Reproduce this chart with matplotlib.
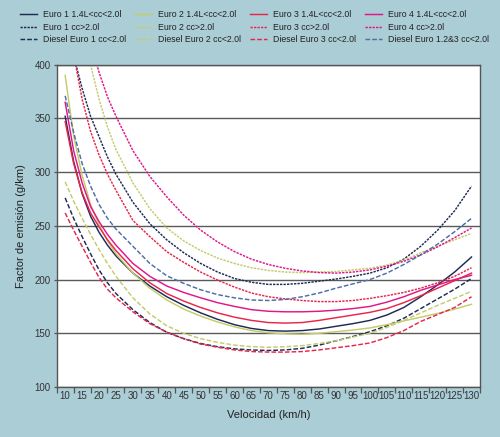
import numpy as np
import matplotlib
matplotlib.use('Agg')
import matplotlib.pyplot as plt
from matplotlib.ticker import FixedLocator, NullFormatter, FixedFormatter

plt.rcParams['font.family'] = ['Liberation Sans', 'DejaVu Sans']

speed = [10, 12.5, 15, 17.5, 20, 22.5, 25, 30, 35, 40, 45, 50, 55, 60, 65,
         70, 75, 80, 85, 90, 95, 100, 105, 110, 115, 120, 125, 130]

euro1 = [352, 310, 280, 259, 244, 232, 222, 206, 194, 184, 176, 169, 163, 158, 154.5,
         152.5, 152, 152.5, 154, 156.5, 159, 162, 167, 174, 184, 195, 207, 221]
euro2 = [390, 334, 297, 270, 251, 236, 224, 206, 192, 181, 172.5, 166, 160.5, 156, 152.5,
         150.5, 149.5, 149, 150, 151.5, 153, 155, 158, 161.5, 165, 168.5, 172.5, 177]
euro3 = [347, 308, 281, 262, 249, 237, 227, 210, 197, 187, 180, 174, 169, 165, 162,
         160, 159.5, 160, 162, 164.5, 167, 169.5, 173, 178.5, 185, 192, 199, 206]
euro4 = [365, 320, 290, 268, 254, 242, 232, 215, 203, 194, 188, 183, 178.5, 175, 172,
         170.5, 170, 170, 170.5, 171.5, 173, 175, 179, 184, 190, 195, 200, 204]

euro1_big = [455, 408, 378, 352, 333, 314, 298, 272, 252, 237, 225, 215, 207, 201, 197.5,
             195.5, 195.5, 196.5, 198.5, 200.5, 203, 206, 211, 219, 231, 246, 264, 287]
euro2_big = [560, 490, 438, 400, 368, 342, 321, 290, 266, 248, 236, 227, 220, 215, 211,
             208.5, 207, 206.5, 207, 207.5, 209, 210.5, 213.5, 218, 225, 231, 237, 243]
euro3_big = [480, 410, 368, 338, 316, 298, 283, 255, 240, 226, 216, 207, 199.5, 193, 187.5,
             184, 182, 180.5, 179.5, 179.5, 180.5, 182.5, 185, 188, 192, 197, 203, 211]
euro4_big = [600, 520, 465, 420, 393, 370, 352, 320, 296, 277, 260, 246, 235, 226, 219,
             214, 210.5, 208, 206.5, 206, 207, 209, 212.5, 217, 223, 230.5, 239, 248]

diesel1 = [276, 257, 240, 224, 209, 197, 187, 172, 160, 151, 145, 140.5, 137.5, 135.5, 134.5,
           134, 134.5, 136, 139, 143, 147, 151.5, 157, 164, 173, 182, 191, 201]
diesel2 = [291, 273, 257, 242, 228, 215, 203, 183, 168, 157, 150, 145, 141.5, 139, 137.5,
           137, 137.5, 138.5, 140.5, 143, 146.5, 150, 155.5, 162, 169, 176, 182.5, 189]
diesel3 = [262, 246, 231, 216, 202, 191, 183, 170, 159, 151, 145, 140, 137, 134.5, 133,
           132.5, 132.5, 133, 134.5, 136.5, 138.5, 141, 146, 152.5, 161, 167.5, 174, 184]
diesel123 = [371, 337, 308, 287, 270, 257, 247, 231, 215, 203.5, 196.5, 190.5, 186, 183, 181,
             180.5, 181.5, 184, 187.5, 192, 196, 200, 206, 214, 223, 233, 244.5, 257]

tick_labels = [str(v) for v in range(10, 135, 5)]

navy = '#1d2b55'
green = '#c4cc6c'
red = '#e8264c'
magenta = '#e0178a'
steel = '#4d6ea6'
bg = '#abcdd6'

dot = (0, (1.6, 0.8))
dash = (0, (3.2, 1.4))

series = [
    (euro1, 'Euro 1 1.4L<cc<2.0l', navy, '-'),
    (euro1_big, 'Euro 1 cc>2.0l', navy, dot),
    (diesel1, 'Diesel Euro 1 cc<2.0l', navy, dash),
    (euro2, 'Euro 2 1.4L<cc<2.0l', green, '-'),
    (euro2_big, 'Euro 2 cc>2.0l', green, dot),
    (diesel2, 'Diesel Euro 2 cc<2.0l', green, dash),
    (euro3, 'Euro 3 1.4L<cc<2.0l', red, '-'),
    (euro3_big, 'Euro 3 cc>2.0l', red, dot),
    (diesel3, 'Diesel Euro 3 cc<2.0l', red, dash),
    (euro4, 'Euro 4 1.4L<cc<2.0l', magenta, '-'),
    (euro4_big, 'Euro 4 cc>2.0l', magenta, dot),
    (diesel123, 'Diesel Euro 1.2&3 cc<2.0l', steel, dash),
]

fig = plt.figure(figsize=(5.0, 4.37), dpi=100, facecolor=bg)
ax = fig.add_axes([0.1134, 0.1144, 0.8466, 0.7376])
ax.set_facecolor('white')

for vals, name, col, ls in series:
    ax.plot(speed, vals, color=col, linestyle=ls, linewidth=1.05, label=name)

ax.set_ylim(100, 400)
ax.set_xlim(7.5, 132.5)
ax.set_yticks([100, 150, 200, 250, 300, 350, 400])
ax.yaxis.grid(True, color='#5a5a5a', linewidth=1.0)
ax.set_axisbelow(True)

ax.xaxis.set_major_locator(FixedLocator(np.arange(7.5, 133, 5)))
ax.xaxis.set_major_formatter(NullFormatter())
ax.xaxis.set_minor_locator(FixedLocator(np.arange(10, 131, 5)))
ax.xaxis.set_minor_formatter(FixedFormatter(tick_labels))
ax.tick_params(axis='x', which='major', length=4.5, width=0.9, color='#555555')
ax.tick_params(axis='x', which='minor', length=0, labelsize=7, labelcolor='#333333', pad=3)
ax.tick_params(axis='y', length=2.5, width=0.9, color='#555555', labelsize=7,
               labelcolor='#333333', pad=2)

for s in ax.spines.values():
    s.set_color('#555555')
    s.set_linewidth(1.0)

ax.set_xlabel('Velocidad (km/h)', fontsize=8, color='#222222', labelpad=6)
ax.set_ylabel('Factor de emisión (g/km)', fontsize=8, color='#222222', labelpad=6)

fig.legend(loc='upper left', bbox_to_anchor=(0.025, 0.995), ncol=4, frameon=False,
           fontsize=6.3, handlelength=1.9, handletextpad=0.7, columnspacing=1.05,
           labelspacing=0.42, labelcolor='#222222')

fig.savefig('out.png', dpi=100, facecolor=bg)
